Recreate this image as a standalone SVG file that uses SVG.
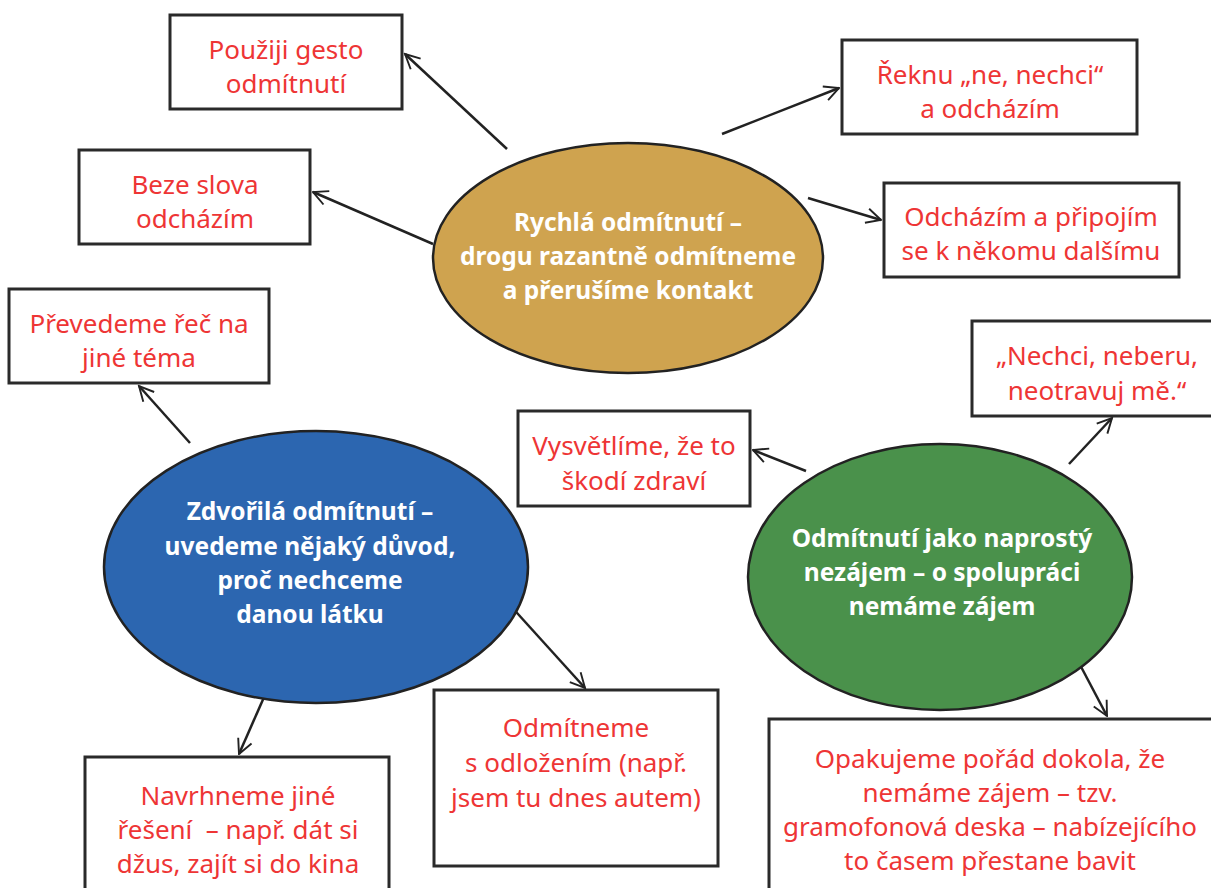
<svg xmlns="http://www.w3.org/2000/svg" width="1211" height="888" viewBox="0 0 1211 888">
<style>
.box{fill:#fff;stroke:#2a2a2a;stroke-width:3}
.ell{stroke:#222;stroke-width:2.5}
.t{font-family:"Noto Sans","Open Sans",sans-serif;font-size:26px;fill:#ee3535;text-anchor:middle}
.w{font-family:"Noto Sans","Open Sans",sans-serif;font-size:24.5px;font-weight:bold;fill:#fff;text-anchor:middle}
.c{stroke:#222;stroke-width:2.5;fill:none;marker-end:url(#ah)}
</style>
<defs>
<marker id="ah" viewBox="0 0 12 12" refX="11" refY="6" markerWidth="7" markerHeight="7" markerUnits="strokeWidth" orient="auto">
<path d="M1,1 L11,6 L1,11" fill="none" stroke="#222" stroke-width="1.3"/>
</marker>
</defs>
<rect width="1211" height="888" fill="#fff"/>
<g id="connectors">
<line class="c" x1="507" y1="149" x2="405" y2="54"/>
<line class="c" x1="722" y1="134" x2="839" y2="88"/>
<line class="c" x1="808" y1="198" x2="881" y2="220"/>
<line class="c" x1="433" y1="244" x2="313" y2="192"/>
<line class="c" x1="190" y1="443" x2="139" y2="386"/>
<line class="c" x1="265" y1="695" x2="239" y2="754"/>
<line class="c" x1="508" y1="603" x2="585" y2="688"/>
<line class="c" x1="806" y1="471" x2="753" y2="450"/>
<line class="c" x1="1069" y1="464" x2="1112" y2="418"/>
<line class="c" x1="1078" y1="661" x2="1107" y2="716"/>
</g>
<g id="n-rychla">
<ellipse class="ell" cx="628" cy="258" rx="195" ry="115" fill="#cfa34f"/>
<text class="w" x="628" y="231">Rychlá odmítnutí –</text>
<text class="w" x="628" y="265">drogu razantně odmítneme</text>
<text class="w" x="628" y="299">a přerušíme kontakt</text>
</g>
<g id="n-zdvorila">
<ellipse class="ell" cx="316" cy="567" rx="212" ry="136" fill="#2c66b0"/>
<text class="w" x="310" y="520">Zdvořilá odmítnutí –</text>
<text class="w" x="310" y="555">uvedeme nějaký důvod,</text>
<text class="w" x="310" y="589">proč nechceme</text>
<text class="w" x="310" y="623">danou látku</text>
</g>
<g id="n-nezajem">
<ellipse class="ell" cx="940" cy="577" rx="192" ry="133" fill="#4a914b"/>
<text class="w" x="942" y="547">Odmítnutí jako naprostý</text>
<text class="w" x="942" y="581">nezájem – o spolupráci</text>
<text class="w" x="942" y="615">nemáme zájem</text>
</g>
<g id="b-gesto">
<rect class="box" x="170" y="15" width="232" height="94"/>
<text class="t" x="286" y="59">Použiji gesto</text>
<text class="t" x="286" y="93">odmítnutí</text>
</g>
<g id="b-reknu">
<rect class="box" x="842" y="40" width="295" height="94"/>
<text class="t" x="990" y="84">Řeknu „ne, nechci“</text>
<text class="t" x="990" y="118">a odcházím</text>
</g>
<g id="b-pripojim">
<rect class="box" x="884" y="183" width="295" height="94"/>
<text class="t" x="1031" y="226">Odcházím a připojím</text>
<text class="t" x="1031" y="260">se k někomu dalšímu</text>
</g>
<g id="b-beze">
<rect class="box" x="79" y="150" width="231" height="94"/>
<text class="t" x="195" y="194">Beze slova</text>
<text class="t" x="195" y="228">odcházím</text>
</g>
<g id="b-prevedeme">
<rect class="box" x="9" y="289" width="260" height="94"/>
<text class="t" x="139" y="333">Převedeme řeč na</text>
<text class="t" x="139" y="367">jiné téma</text>
</g>
<g id="b-vysvetlime">
<rect class="box" x="518" y="411" width="232" height="95"/>
<text class="t" x="634" y="455">Vysvětlíme, že to</text>
<text class="t" x="634" y="490">škodí zdraví</text>
</g>
<g id="b-nechci">
<rect class="box" x="972" y="321" width="245" height="95"/>
<text class="t" x="1097" y="365">„Nechci, neberu,</text>
<text class="t" x="1097" y="400">neotravuj mě.“</text>
</g>
<g id="b-navrhneme">
<rect class="box" x="85" y="757" width="304" height="140"/>
<text class="t" x="238" y="805">Navrhneme jiné</text>
<text class="t" x="238" y="839" style="white-space:pre">řešení  – např. dát si</text>
<text class="t" x="238" y="873">džus, zajít si do kina</text>
</g>
<g id="b-odlozeni">
<rect class="box" x="434" y="690" width="284" height="176"/>
<text class="t" x="576" y="737">Odmítneme</text>
<text class="t" x="576" y="772">s odložením (např.</text>
<text class="t" x="576" y="807">jsem tu dnes autem)</text>
</g>
<g id="b-opakujeme">
<rect class="box" x="769" y="719" width="450" height="180"/>
<text class="t" x="990" y="768">Opakujeme pořád dokola, že</text>
<text class="t" x="990" y="802">nemáme zájem – tzv.</text>
<text class="t" x="990" y="836">gramofonová deska – nabízejícího</text>
<text class="t" x="990" y="870">to časem přestane bavit</text>
</g>
</svg>
